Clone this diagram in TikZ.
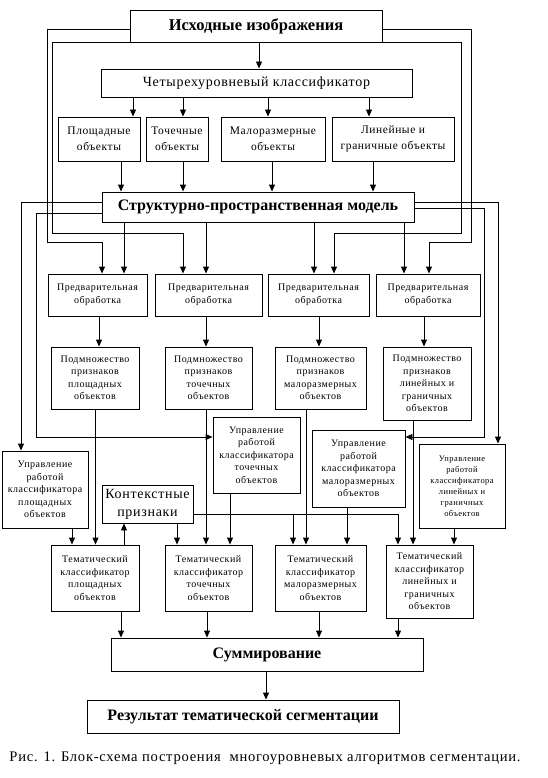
\documentclass[tikz,border=0pt]{standalone}
\usepackage{fontspec}
\setmainfont{Liberation Serif}
\newfontfamily\lsf[LetterSpace=5]{Liberation Serif}
\usetikzlibrary{arrows.meta}
\newcommand\bx[7]{\node[box,#6,minimum width={(#4-#2)*1pt},minimum height={(#5-#3)*1pt}] (#1) at ({(#2+#4)/2},{(#3+#5)/2}) {#7};}
\tikzset{
  box/.style={draw, line width=0.9pt, inner sep=0pt, align=center},
  arr/.style={line width=0.9pt, -{Triangle[length=7pt,width=6pt]}},
  ln/.style={line width=0.9pt},
  bigb/.style={font=\fontsize{16}{18}\selectfont\bfseries},
  midt/.style={font=\lsf\fontsize{14}{16}\selectfont},
  objt/.style={font=\lsf\fontsize{11.5}{16}\selectfont},
  smallt/.style={font=\lsf\fontsize{10}{12.5}\selectfont},
  tinyt/.style={font=\lsf\fontsize{8.5}{11}\selectfont},
  ctxt/.style={font=\lsf\fontsize{14}{18}\selectfont},
  capt/.style={font=\lsf\fontsize{14.6}{16}\selectfont},
}
\begin{document}
\begin{tikzpicture}[x=1pt,y=-1pt]
\useasboundingbox (0,0) rectangle (547,778);
% boxes
\bx{src}{130}{10}{382}{42}{font=\fontsize{16.5}{18}\selectfont\bfseries}{Исходные изображения}
\bx{cls}{101}{69}{412}{97}{midt}{Четырехуровневый классификатор}
\bx{obj1}{58}{117}{140}{161}{objt}{Площадные\\объекты}
\bx{obj2}{146}{117}{208}{161}{objt}{Точечные\\объекты}
\bx{obj3}{221}{117}{325}{161}{objt}{Малоразмерные\\объекты}
\bx{obj4}{332}{117}{454}{161}{objt}{Линейные и\\граничные объекты}
\bx{str}{102}{192}{414}{222}{bigb}{Структурно-пространственная модель}
\bx{pre1}{48}{274}{147}{316}{smallt}{Предварительная\\обработка}
\bx{pre2}{155}{274}{262}{316}{smallt}{Предварительная\\обработка}
\bx{pre3}{268}{274}{369}{316}{smallt}{Предварительная\\обработка}
\bx{pre4}{376}{274}{480}{316}{smallt}{Предварительная\\обработка}
\bx{sub1}{51}{347}{139}{409}{smallt}{Подмножество\\признаков\\площадных\\объектов}
\bx{sub2}{165}{347}{252}{409}{smallt}{Подмножество\\признаков\\точечных\\объектов}
\bx{sub3}{275}{347}{366}{409}{smallt}{Подмножество\\признаков\\малоразмерных\\объектов}
\bx{sub4}{383}{347}{471}{420}{smallt}{Подмножество\\признаков\\линейных и\\граничных\\объектов}
\bx{utc}{213}{417}{300}{493}{smallt}{Управление\\работой\\классификатора\\точечных\\объектов}
\bx{uml}{312}{430}{405}{507}{smallt}{Управление\\работой\\классификатора\\малоразмерных\\объектов}
\bx{upl}{2}{451}{88}{528}{smallt}{Управление\\работой\\классификатора\\площадных\\объектов}
\bx{uln}{419}{444}{505}{528}{tinyt}{Управление\\работой\\классификатора\\линейных и\\граничных\\объектов}
\bx{ctx}{102}{485}{193}{523}{ctxt}{Контекстные\\признаки}
\bx{tem1}{51}{545}{139}{611}{smallt}{Тематический\\классификатор\\площадных\\объектов}
\bx{tem2}{165}{545}{252}{611}{smallt}{Тематический\\классификатор\\точечных\\объектов}
\bx{tem3}{275}{545}{366}{611}{smallt}{Тематический\\классификатор\\малоразмерных\\объектов}
\bx{tem4}{386}{545}{473}{618}{smallt}{Тематический\\классификатор\\линейных и\\граничных\\объектов}
\bx{sum}{111}{638}{423}{671}{bigb}{Суммирование}
\bx{res}{87}{700}{399}{733}{bigb}{Результат тематической сегментации}
\node[capt,inner sep=0pt] (cap) at (265,758) {Рис. 1. Блок-схема построения\ \ многоуровневых алгоритмов сегментации.};
% top
\draw[arr] (src.south -| 259,0) -- (cls.north -| 259,0);
\foreach \x/\t in {133/obj1,183/obj2,268/obj3,369/obj4}
  \draw[arr] (cls.south -| \x,0) -- (\t.north -| \x,0);
\foreach \x/\t in {121/obj1,183/obj2,272/obj3,373/obj4}
  \draw[arr] (\t.south -| \x,0) -- (str.north -| \x,0);
% source bypass lines
\draw[arr] (src.west |- 0,29) -| (47,242) -| (pre1.north -| 102,0);
\draw[arr] (src.south west) -| (52,233) -| (pre2.north -| 183,0);
\draw[arr] (src.south east) -| (461,233) -| (pre3.north -| 334,0);
\draw[arr] (src.east |- 0,29) -| (471,242) -| (pre4.north -| 429,0);
% model to preprocessing
\foreach \x/\t in {124/pre1,206/pre2,314/pre3,404/pre4}
  \draw[arr] (str.south -| \x,0) -- (\t.north -| \x,0);
% model to control blocks
\draw[arr] (str.west |- 0,202) -| (upl.north -| 21,0);
\draw[arr] (str.west |- 0,213) -| (36,437) -- (utc.west |- 0,437);
\draw[arr] (str.east |- 0,208) -| (484,437) -- (uml.east |- 0,437);
\draw[arr] (str.east |- 0,202) -| (uln.north -| 498,0);
% preprocessing to subsets
\draw[arr] (pre1.south -| 99,0) -- (sub1.north -| 99,0);
\draw[arr] (pre2.south -| 206,0) -- (sub2.north -| 206,0);
\draw[arr] (pre3.south -| 319,0) -- (sub3.north -| 319,0);
\draw[arr] (pre4.south -| 424,0) -- (sub4.north -| 424,0);
% subsets to thematic
\draw[arr] (sub1.south -| 95.5,0) -- (tem1.north -| 95.5,0);
\draw[arr] (sub2.south -| 206,0) -- (tem2.north -| 206,0);
\draw[arr] (sub3.south -| 306,0) -- (tem3.north -| 306,0);
\draw[arr] (sub4.south -| 413,0) -- (tem4.north -| 413,0);
% control to thematic
\draw[arr] (upl.south -| 72,0) -- (tem1.north -| 72,0);
\draw[arr] (utc.south -| 230,0) -- (tem2.north -| 230,0);
\draw[arr] (uml.south -| 347,0) -- (tem3.north -| 347,0);
\draw[arr] (uln.south -| 454,0) -- (tem4.north -| 454,0);
% context
\draw[arr] (tem1.north -| 124,0) -- (ctx.south -| 124,0);
\draw[arr] (ctx.south -| 177,0) -- (tem2.north -| 177,0);
\coordinate (cbr) at (293,514);
\draw[arr] (ctx.east |- cbr) -| (tem4.north -| 398,0);
\draw[arr] (cbr) -- (tem3.north -| cbr);
% to sum
\foreach \x/\t in {121/tem1,207/tem2,319/tem3,398/tem4}
  \draw[arr] (\t.south -| \x,0) -- (sum.north -| \x,0);
\draw[arr] (sum.south -| 266,0) -- (res.north -| 266,0);
\end{tikzpicture}
\end{document}
